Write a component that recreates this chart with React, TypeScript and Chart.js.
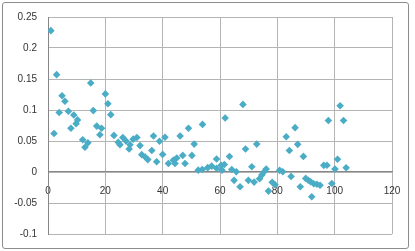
import React, { useEffect, useRef } from "react";
import { Chart, registerables } from "chart.js";

Chart.register(...registerables);

const xValues: number[] = [
  1.0, 2.1, 3.0, 3.9, 4.9, 5.9, 7.1, 8.0, 9.0, 9.8,
  10.3, 12.1, 12.9, 13.9, 14.9, 15.8, 17.0, 18.1, 18.7, 20.0,
  20.9, 21.9, 23.0, 24.5, 25.1, 26.1, 27.2, 28.3, 28.6, 29.7,
  31.0, 32.1, 32.7, 33.9, 34.8, 36.2, 36.8, 37.9, 38.9, 40.0,
  40.8, 42.0, 43.7, 44.3, 44.9, 46.1, 47.0, 47.8, 49.0, 50.2,
  51.0, 52.4, 53.8, 53.9, 55.7, 57.1, 58.8, 58.8, 60.4, 60.7,
  61.5, 61.8, 63.3, 64.1, 64.9, 65.7, 67.0, 68.0, 68.9, 69.9,
  71.1, 71.9, 72.8, 73.8, 74.6, 75.5, 76.1, 76.9, 78.2, 79.2,
  80.8, 81.9, 83.1, 84.2, 84.8, 86.2, 87.1, 88.0, 89.1, 89.9,
  90.8, 91.6, 92.0, 92.7, 93.8, 94.9, 96.2, 97.3, 97.8, 99.0,
  100.1, 101.0, 101.9, 103.1, 104.0,
];

const yValues: number[] = [
  0.228, 0.062, 0.157, 0.096, 0.123, 0.114, 0.098, 0.0705, 0.092, 0.078,
  0.084, 0.052, 0.040, 0.047, 0.1435, 0.099, 0.074, 0.060, 0.0705, 0.126,
  0.110, 0.0925, 0.059, 0.048, 0.044, 0.0557, 0.050, 0.037, 0.044, 0.053,
  0.0557, 0.0426, 0.028, 0.0242, 0.020, 0.0347, 0.058, 0.0166, 0.0497, 0.0284,
  0.056, 0.0137, 0.019, 0.0137, 0.0225, 0.058, 0.0268, 0.0137, 0.0705, 0.0268,
  0.045, 0.003, 0.004, 0.0768, 0.007, 0.0095, 0.006, 0.021, 0.011, 0.003,
  0.012, 0.087, 0.025, 0.004, -0.0135, 0.0005, -0.0237, 0.109, 0.037, -0.0135,
  0.0084, -0.0163, 0.045, -0.0107, -0.0047, 0.0008, 0.0047, -0.0308, -0.0166, -0.0205,
  0.0027, 0.0005, 0.0568, 0.0347, -0.0071, 0.0715, 0.0446, -0.0237, 0.0252, -0.0103,
  -0.0134, -0.0158, -0.040, -0.019, -0.0197, -0.0213, 0.0107, 0.011, 0.083, -0.0185,
  0.0047, 0.0205, 0.1068, 0.083, 0.0068,
];

const xMin = 0;
const xMax = 120;
const xStep = 20;
const yMin = -0.1;
const yMax = 0.25;
const yStep = 0.05;

export default function App() {
  const canvasRef = useRef<HTMLCanvasElement | null>(null);

  useEffect(() => {
    document.body.style.margin = "0";
    const canvas = canvasRef.current;
    if (!canvas) return;
    const points = xValues.map((x, i) => ({ x, y: yValues[i] }));
    const font = { family: "'Liberation Sans', Arial, sans-serif", size: 10 };
    const chart = new Chart(canvas, {
      type: "scatter",
      data: {
        datasets: [
          {
            data: points,
            pointStyle: "rectRot",
            pointRadius: 3.8,
            pointHoverRadius: 3.8,
            backgroundColor: "#4bacc6",
            borderWidth: 0,
          },
        ],
      },
      options: {
        animation: false,
        responsive: false,
        maintainAspectRatio: false,
        events: [],
        layout: { padding: { left: 8, right: 23, top: 13, bottom: 15 } },
        plugins: { legend: { display: false }, tooltip: { enabled: false } },
        scales: {
          x: {
            type: "linear",
            position: { y: 0 },
            min: xMin,
            max: xMax,
            ticks: {
              stepSize: xStep,
              font,
              color: "#333333",
              padding: 13,
            },
            grid: { color: "#b4b4b4", drawTicks: false, lineWidth: 1 },
            border: { color: "#868686", width: 1 },
            afterFit: (s: any) => {
              s.height = 0;
            },
          },
          y: {
            type: "linear",
            min: yMin,
            max: yMax,
            ticks: {
              stepSize: yStep,
              font,
              color: "#333333",
              padding: 11,
              callback: (v: any) => String(parseFloat(Number(v).toFixed(2))),
            },
            grid: { color: "#b4b4b4", drawTicks: false, lineWidth: 1 },
            border: { color: "#868686", width: 1 },
            afterFit: (s: any) => {
              s.width = 40;
            },
          },
        },
      },
    });
    return () => chart.destroy();
  }, []);

  return (
    <div style={{ position: "absolute", left: 0, top: 0, width: 415, height: 251, background: "#fff" }}>
      <div
        style={{
          position: "absolute",
          left: 2,
          top: 2,
          width: 405,
          height: 245,
          border: "1px solid #8c8c8c",
          borderRadius: 3,
        }}
      />
      <canvas
        ref={canvasRef}
        width={415}
        height={251}
        style={{ position: "absolute", left: 0, top: 0, width: 415, height: 251 }}
      />
    </div>
  );
}
